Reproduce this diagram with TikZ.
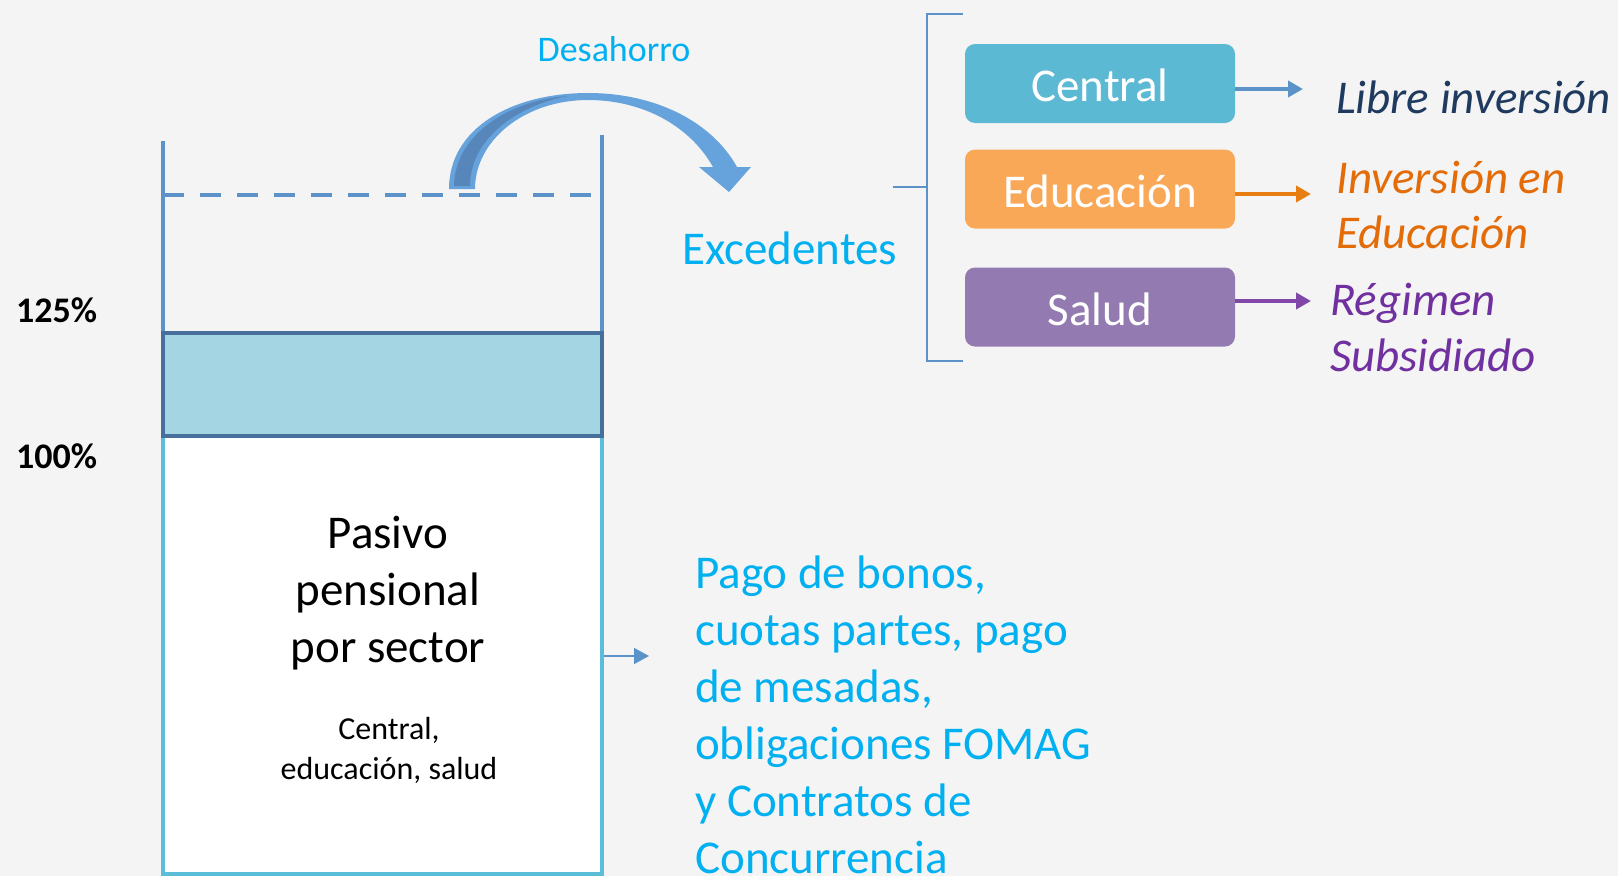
\documentclass[tikz,border=0pt]{standalone}
\usepackage{fontspec}
\setmainfont{Carlito}
\usepackage{tikz}
\usetikzlibrary{arrows.meta}

\definecolor{bgcol}{HTML}{F4F4F4}
\definecolor{tankline}{HTML}{5D92C9}
\definecolor{levelborder}{HTML}{466F9C}
\definecolor{levelfill}{HTML}{A3D5E3}
\definecolor{lowborder}{HTML}{5BBDD7}
\definecolor{cyantxt}{HTML}{00B0F0}
\definecolor{centralfill}{HTML}{5CB9D3}
\definecolor{educfill}{HTML}{F9A857}
\definecolor{saludfill}{HTML}{937BB1}
\definecolor{navytxt}{HTML}{1F3A5F}
\definecolor{orangetxt}{HTML}{E36C09}
\definecolor{purpletxt}{HTML}{7030A0}
\definecolor{bluearrow}{HTML}{5B93C9}
\definecolor{orangearrow}{HTML}{E87D12}
\definecolor{purplearrow}{HTML}{8046A8}
\definecolor{curvelight}{HTML}{66A2DC}
\definecolor{curvedark}{HTML}{5787BA}

\newcommand\sizeL{\fontsize{47}{57}\selectfont}
\newcommand\sizeM{\fontsize{36}{44}\selectfont}
\newcommand\sizeS{\fontsize{32}{40}\selectfont}

\begin{document}
\begin{tikzpicture}[x=1pt,y=-1pt]
   \useasboundingbox (0,0) rectangle (1618,876);
   \fill[bgcol] (0,0) rectangle (1618,876);
   \tikzstyle{sector}=[rounded corners=10pt, minimum width=270pt, minimum height=79pt, text=white, text height=36pt, text depth=0pt, inner sep=0pt, font=\sizeL]
   \tikzstyle{txt}=[inner sep=0pt, anchor=base west, font=\sizeL]
   \tikzstyle{outarrow}=[-{Triangle[length=15pt,width=16pt]}, line width=4.5pt]
   % tank
   \node[draw=lowborder, fill=white, line width=4pt, minimum width=439pt, minimum height=438pt, inner sep=0pt] (pasivo) at (382.5,655) {};
   \draw[tankline, line width=3.5pt] (163,333) -- (163,141);
   \draw[tankline, line width=3.5pt] (602,333) -- (602,135);
   \draw[tankline, line width=4pt, dash pattern=on 21pt off 16pt] (163,195) -- (602,195);
   \node[draw=levelborder, fill=levelfill, line width=4.5pt, minimum width=439pt, minimum height=103pt, inner sep=0pt] (reserva) at (382.5,384.5) {};
   \node[anchor=base west, inner sep=0pt, font=\sizeM\bfseries] (p125) at (16,322) {125\%};
   \node[anchor=base west, inner sep=0pt, font=\sizeM\bfseries] (p100) at (16,468) {100\%};
   \foreach \i/\word in {0/{Pasivo},1/{pensional},2/{por sector}} {
       \node[inner sep=0pt, anchor=base, font=\sizeL] (pas\i) at (388,{548+57*\i}) {\word};
   }
   \node[inner sep=0pt, anchor=base, font=\sizeS] (sect0) at (389,739) {Central,};
   \node[inner sep=0pt, anchor=base, font=\sizeS] (sect1) at (389,779) {educación, salud};
   % desahorro
   \fill[curvelight] (449,189) .. controls (449,128) and (512,93) .. (588,93)
       .. controls (656,93) and (712,122) .. (737,167)
       -- (751,167) -- (729,192) -- (699,167) -- (713,167)
       .. controls (690,126) and (643,100) .. (588,100)
       .. controls (525,100) and (475,140) .. (475,189) -- cycle;
   \fill[curvedark] (454,186) .. controls (455,134) and (510,100) .. (568,96)
       .. controls (515,106) and (470,140) .. (470,186) -- cycle;
   \node[inner sep=0pt, anchor=base, font=\sizeM, text=cyantxt] (desahorro) at (614,61) {Desahorro};
   \node[txt, text=cyantxt] (exced) at (682,264) {Excedentes};
   % pagos
   \coordinate (pagotip) at (649,656);
   \draw[bluearrow, line width=1.5pt, -{Triangle[length=15pt,width=16pt]}] (pasivo.east |- pagotip) -- (pagotip);
   \foreach \i/\line in {0/{Pago de bonos,},1/{cuotas partes, pago},2/{de mesadas,},3/{obligaciones FOMAG},4/{y Contratos de},5/{Concurrencia}} {
       \node[txt, text=cyantxt] (pago\i) at (695,{588+57*\i}) {\line};
   }
   % sectores
   \coordinate (brace) at (927,187);
   \draw[tankline, line width=2pt] (963,14) -- (927,14) -- (927,361) -- (963,361);
   \draw[tankline, line width=2pt] (893,187) -- (brace);
   \node[sector, fill=centralfill] (central) at (1100,83.5) {Central};
   \node[sector, fill=educfill] (educ) at (1100,189) {Educación};
   \node[sector, fill=saludfill] (salud) at (1100,307) {Salud};
   \coordinate (libtip) at (1303,89);
   \coordinate (edutip) at (1311,194);
   \coordinate (regtip) at (1311,301);
   \draw[outarrow, bluearrow] (central.east |- libtip) -- (libtip);
   \draw[outarrow, orangearrow] (educ.east |- edutip) -- (edutip);
   \draw[outarrow, purplearrow] (salud.east |- regtip) -- (regtip);
   \node[txt, text=navytxt, font=\sizeL\itshape] (libre) at (1336,113) {Libre inversión};
   \node[txt, text=orangetxt, font=\sizeL\itshape] (inv0) at (1336,193) {Inversión en};
   \node[txt, text=orangetxt, font=\sizeL\itshape] (inv1) at (1336,248) {Educación};
   \node[txt, text=purpletxt, font=\sizeL\itshape] (reg0) at (1330,315) {Régimen};
   \node[txt, text=purpletxt, font=\sizeL\itshape] (reg1) at (1330,371) {Subsidiado};
\end{tikzpicture}
\end{document}
